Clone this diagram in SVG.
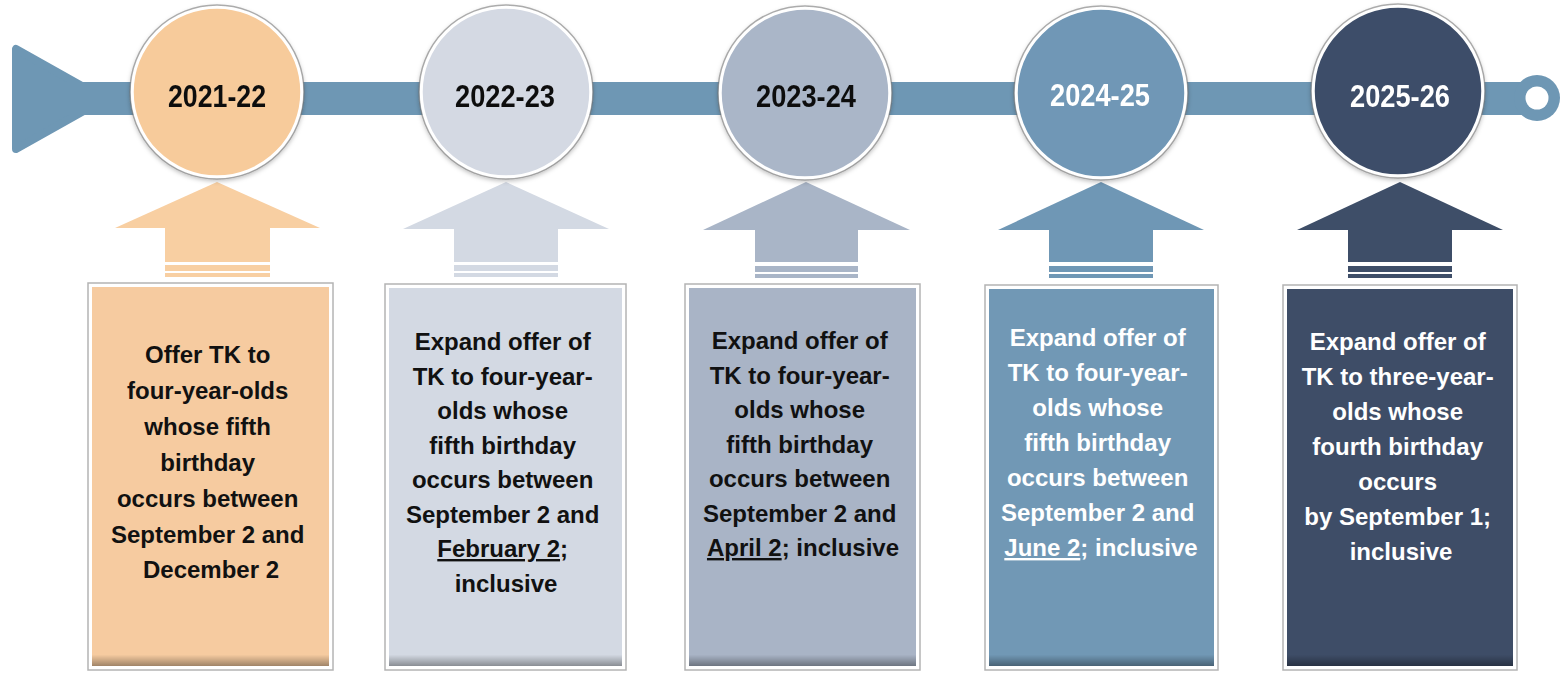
<svg xmlns="http://www.w3.org/2000/svg" width="1560" height="674" viewBox="0 0 1560 674">
<style>
  .t { font-family: "Liberation Sans", Arial, sans-serif; font-weight: bold; font-size: 24px; text-anchor: middle; }
  .yr { font-family: "Liberation Sans", Arial, sans-serif; font-weight: bold; font-size: 32px; text-anchor: middle; }
  .dark { fill: #111111; }
  .light { fill: #ffffff; }
  .frame { fill: #ffffff; stroke: #b4b4b4; stroke-width: 1.5; }
  .ring { stroke: #ffffff; stroke-width: 3.5; }
  .halo { fill: none; stroke: #6d6d6d; stroke-width: 1.5; opacity: 0.55; }
  .bar { fill: #6e97b4; }
</style>
<defs>
  <filter id="sh" x="-20%" y="-20%" width="140%" height="140%">
    <feDropShadow dx="0" dy="2" stdDeviation="2" flood-color="#000" flood-opacity="0.25"/>
  </filter>
  <linearGradient id="boxshade" x1="0" y1="0" x2="0" y2="1">
    <stop offset="0" stop-color="#000" stop-opacity="0"/>
    <stop offset="0.97" stop-color="#000" stop-opacity="0"/>
    <stop offset="1" stop-color="#000" stop-opacity="0.35"/>
  </linearGradient>
</defs>

<g id="timeline">
  <path class="bar" d="M16,49 L16,149 L105,99 Z" stroke="#6e97b4" stroke-width="8" stroke-linejoin="round"/>
  <rect class="bar" x="60" y="82" width="1465" height="33"/>
  <circle cx="1537" cy="98" r="23" fill="#6e97b4"/>
  <circle cx="1537" cy="98" r="11.5" fill="#ffffff"/>
</g>

<g id="connectors">
  <g id="arrow1" fill="#f8cfa2">
    <polygon points="217,182 320,228 115,228"/>
    <rect x="165" y="227" width="105" height="35"/>
    <rect x="165" y="265" width="105" height="6"/>
    <rect x="165" y="273" width="105" height="4"/>
  </g>
  <g id="arrow2" fill="#d3d9e3">
    <polygon points="506,182 609,229 403,229"/>
    <rect x="454" y="228" width="104" height="34"/>
    <rect x="454" y="265" width="104" height="6"/>
    <rect x="454" y="273" width="104" height="4"/>
  </g>
  <g id="arrow3" fill="#a9b5c7">
    <polygon points="806,182 910,230 703,230"/>
    <rect x="755" y="229" width="103" height="33"/>
    <rect x="755" y="266" width="103" height="6"/>
    <rect x="755" y="274" width="103" height="4"/>
  </g>
  <g id="arrow4" fill="#6f97b5">
    <polygon points="1101,182 1204,230 998,230"/>
    <rect x="1049" y="229" width="104" height="33"/>
    <rect x="1049" y="266" width="104" height="6"/>
    <rect x="1049" y="274" width="104" height="4"/>
  </g>
  <g id="arrow5" fill="#3e4e68">
    <polygon points="1400,182 1503,230 1297,230"/>
    <rect x="1348" y="229" width="104" height="33"/>
    <rect x="1348" y="266" width="104" height="6"/>
    <rect x="1348" y="274" width="104" height="4"/>
  </g>
</g>

<g id="circle1" filter="url(#sh)">
  <circle cx="217" cy="92" r="85" fill="#f7cb9b" class="ring"/>
  <circle cx="217" cy="92" r="87" class="halo"/>
  <text class="yr dark" x="217" y="107" textLength="98" lengthAdjust="spacingAndGlyphs">2021-22</text>
</g>
<g id="circle2" filter="url(#sh)">
  <circle cx="506" cy="92" r="85" fill="#d4d9e3" class="ring"/>
  <circle cx="506" cy="92" r="87" class="halo"/>
  <text class="yr dark" x="505" y="107" textLength="100" lengthAdjust="spacingAndGlyphs">2022-23</text>
</g>
<g id="circle3" filter="url(#sh)">
  <circle cx="805" cy="93" r="85" fill="#aab6c8" class="ring"/>
  <circle cx="805" cy="93" r="87" class="halo"/>
  <text class="yr dark" x="806" y="107" textLength="100" lengthAdjust="spacingAndGlyphs">2023-24</text>
</g>
<g id="circle4" filter="url(#sh)">
  <circle cx="1101" cy="93" r="85" fill="#6f97b6" class="ring"/>
  <circle cx="1101" cy="93" r="87" class="halo"/>
  <text class="yr light" x="1100" y="106" textLength="100" lengthAdjust="spacingAndGlyphs">2024-25</text>
</g>
<g id="circle5" filter="url(#sh)">
  <circle cx="1398" cy="91" r="85" fill="#3e4e69" class="ring"/>
  <circle cx="1398" cy="91" r="87" class="halo"/>
  <text class="yr light" x="1400" y="107" textLength="100" lengthAdjust="spacingAndGlyphs">2025-26</text>
</g>

<g id="box1">
  <rect class="frame" x="88" y="283" width="245" height="387"/>
  <rect x="92" y="287" width="237" height="379" fill="#f6cba0"/>
  <rect x="92" y="287" width="237" height="379" fill="url(#boxshade)"/>
  <text class="t dark">
    <tspan x="211" y="363">Offer TK to</tspan>
    <tspan x="211" y="399">four-year-olds</tspan>
    <tspan x="211" y="435">whose fifth</tspan>
    <tspan x="211" y="471">birthday</tspan>
    <tspan x="211" y="507">occurs between</tspan>
    <tspan x="211" y="543">September 2 and</tspan>
    <tspan x="211" y="578">December 2</tspan>
  </text>
</g>

<g id="box2">
  <rect class="frame" x="385" y="284" width="241" height="386"/>
  <rect x="389" y="288" width="233" height="378" fill="#d3d9e3"/>
  <rect x="389" y="288" width="233" height="378" fill="url(#boxshade)"/>
  <text class="t dark">
    <tspan x="506" y="350">Expand offer of</tspan>
    <tspan x="506" y="384.5">TK to four-year-</tspan>
    <tspan x="506" y="419">olds whose</tspan>
    <tspan x="506" y="453.5">fifth birthday</tspan>
    <tspan x="506" y="488">occurs between</tspan>
    <tspan x="506" y="522.5">September 2 and</tspan>
    <tspan x="506" y="557"><tspan text-decoration="underline">February 2</tspan>;</tspan>
    <tspan x="506" y="591.5">inclusive</tspan>
  </text>
</g>

<g id="box3">
  <rect class="frame" x="685" y="284" width="235" height="386"/>
  <rect x="689" y="288" width="227" height="378" fill="#a9b4c6"/>
  <rect x="689" y="288" width="227" height="378" fill="url(#boxshade)"/>
  <text class="t dark">
    <tspan x="803" y="349">Expand offer of</tspan>
    <tspan x="803" y="383.5">TK to four-year-</tspan>
    <tspan x="803" y="418">olds whose</tspan>
    <tspan x="803" y="452.5">fifth birthday</tspan>
    <tspan x="803" y="487">occurs between</tspan>
    <tspan x="803" y="521.5">September 2 and</tspan>
    <tspan x="803" y="556"><tspan text-decoration="underline">April 2</tspan>; inclusive</tspan>
  </text>
</g>

<g id="box4">
  <rect class="frame" x="985" y="285" width="233" height="385"/>
  <rect x="989" y="289" width="225" height="377" fill="#7198b5"/>
  <rect x="989" y="289" width="225" height="377" fill="url(#boxshade)"/>
  <text class="t light">
    <tspan x="1101" y="346">Expand offer of</tspan>
    <tspan x="1101" y="381">TK to four-year-</tspan>
    <tspan x="1101" y="416">olds whose</tspan>
    <tspan x="1101" y="451">fifth birthday</tspan>
    <tspan x="1101" y="486">occurs between</tspan>
    <tspan x="1101" y="521">September 2 and</tspan>
    <tspan x="1101" y="556"><tspan text-decoration="underline">June 2</tspan>; inclusive</tspan>
  </text>
</g>

<g id="box5">
  <rect class="frame" x="1283" y="285" width="234" height="385"/>
  <rect x="1287" y="289" width="226" height="377" fill="#3e4d67"/>
  <rect x="1287" y="289" width="226" height="377" fill="url(#boxshade)"/>
  <text class="t light">
    <tspan x="1401" y="350">Expand offer of</tspan>
    <tspan x="1401" y="385">TK to three-year-</tspan>
    <tspan x="1401" y="420">olds whose</tspan>
    <tspan x="1401" y="455">fourth birthday</tspan>
    <tspan x="1401" y="490">occurs</tspan>
    <tspan x="1401" y="525">by September 1;</tspan>
    <tspan x="1401" y="560">inclusive</tspan>
  </text>
</g>
</svg>
